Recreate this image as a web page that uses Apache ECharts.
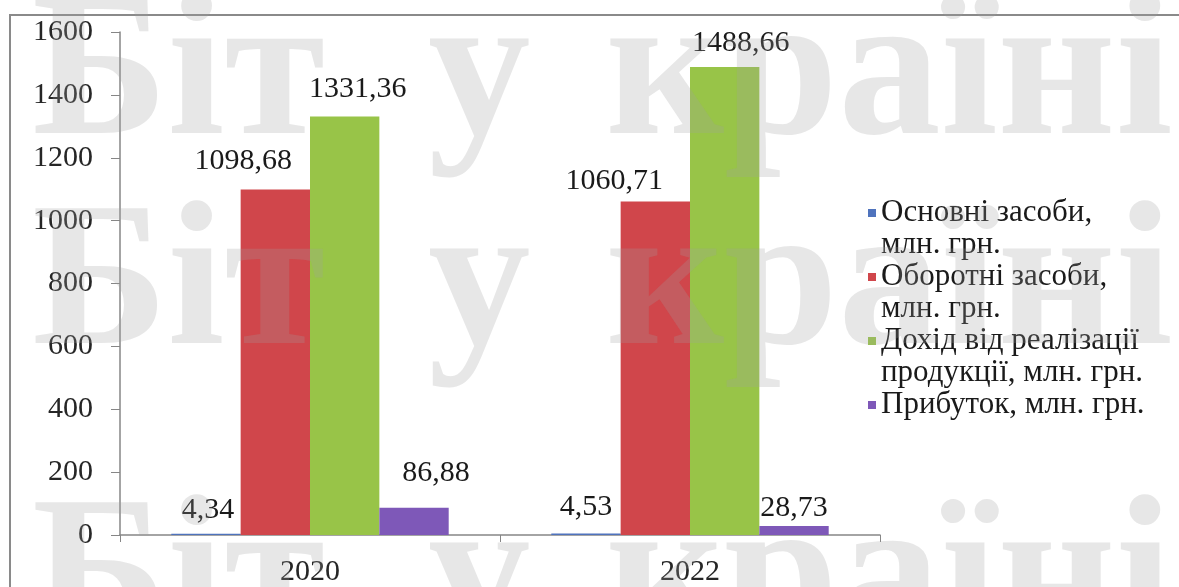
<!DOCTYPE html>
<html>
<head>
<meta charset="utf-8">
<script src="https://cdn.jsdelivr.net/npm/echarts@6/dist/echarts.min.js"></script>
<style>
  html, body { margin: 0; padding: 0; background: #ffffff; }
  #chart { width: 1179px; height: 587px; }
</style>
</head>
<body>
<div id="chart"></div>
<script>
// Years on the category axis
const years = ['2020', '2022'];

// Series names and the wrapped legend captions
const seriesNames = [
  'Основні засоби, млн. грн.',
  'Оборотні засоби, млн. грн.',
  'Дохід від реалізації продукції, млн. грн.',
  'Прибуток, млн. грн.'
];
const legendCaptions = [
  'Основні засоби,\nмлн. грн.',
  'Оборотні засоби,\nмлн. грн.',
  'Дохід від реалізації\nпродукції, млн. грн.',
  'Прибуток, млн. грн.\n '
];

// Values, млн. грн.
const fixedAssets   = [4.34, 4.53];
const currentAssets = [1098.68, 1060.71];
const salesIncome   = [1331.36, 1488.66];
const profit        = [86.88, 28.73];

// Value axis range
const yMin = 0;
const yMax = 1600;
const yStep = 200;

// Layout: value-label nudges [dx, dy] per series and year
const labelNudge = [
  [[2, -4], [0, -6]],
  [[-32, -8], [-41, 0]],
  [[13, -7], [16, -4]],
  [[22, -15], [0, 2]]
];

const colors = ['#4f73bd', '#d0464b', '#98c448', '#7e58b8'];
const serif = '"Liberation Serif", "Times New Roman", serif';
const axisGrey = '#868686';

const fmt = v => v.toFixed(2).replace('.', ',');

const valueSets = [fixedAssets, currentAssets, salesIncome, profit];

const series = valueSets.map((vals, si) => ({
  name: seriesNames[si],
  type: 'bar',
  barGap: '0%',
  barCategoryGap: '27%',
  itemStyle: { color: colors[si] },
  label: {
    show: true,
    position: 'top',
    distance: 5,
    fontFamily: serif,
    fontSize: 30,
    color: '#1a1a1a',
    formatter: p => fmt(p.value)
  },
  data: vals.map((v, i) => ({
    value: v,
    label: { offset: labelNudge[si][i] }
  }))
}));

// Faint site lettering repeated in three rows across the picture
const markWords = ['Біт', 'у', 'країні'];
const markWordX = [32, 428, 606];
const markRows = [80, 290, 584];
const markGraphics = [];
markRows.forEach(y => {
  markWords.forEach((w, k) => {
    markGraphics.push({
      type: 'text',
      z: 100,
      silent: true,
      x: markWordX[k],
      y: y,
      style: {
        text: w,
        font: 'bold 205px "Liberation Serif", serif',
        fill: 'rgba(160,160,160,0.25)',
        verticalAlign: 'middle',
        align: 'left'
      }
    });
  });
});

const option = {
  animation: false,
  backgroundColor: '#ffffff',
  color: colors,
  grid: { left: 120, right: 299, top: 32, bottom: 50, containLabel: false },
  xAxis: {
    type: 'category',
    data: years,
    boundaryGap: true,
    axisLine: { show: true, lineStyle: { color: axisGrey, width: 1.5 } },
    axisTick: { show: true, length: 7, lineStyle: { color: axisGrey } },
    axisLabel: { fontFamily: serif, fontSize: 30, color: '#262626', margin: 22 },
    splitLine: { show: false }
  },
  yAxis: {
    type: 'value',
    min: yMin,
    max: yMax,
    interval: yStep,
    axisLine: { show: true, lineStyle: { color: axisGrey, width: 1.5 } },
    axisTick: { show: true, length: 9, lineStyle: { color: axisGrey } },
    axisLabel: {
      fontFamily: serif, fontSize: 30, color: '#262626', margin: 27,
      formatter: v => String(v)
    },
    splitLine: { show: false }
  },
  legend: {
    orient: 'vertical',
    left: 863,
    top: 192,
    itemGap: 0,
    itemWidth: 8,
    itemHeight: 64,
    icon: 'path://M0,0h0.01v0.01h-0.01z M0,12h8v8h-8z M0,64h0.01v0.01h-0.01z',
    selectedMode: false,
    textStyle: { fontFamily: serif, fontSize: 31, lineHeight: 32, color: '#1a1a1a' },
    formatter: name => legendCaptions[seriesNames.indexOf(name)],
    data: seriesNames
  },
  graphic: [
    {
      type: 'rect',
      z: -1,
      silent: true,
      shape: { x: 10, y: 15, width: 1400, height: 800 },
      style: { fill: 'none', stroke: '#8a8a8a', lineWidth: 2 }
    }
  ].concat(markGraphics),
  series: series
};

const chart = echarts.init(document.getElementById('chart'), null, { renderer: 'canvas' });
chart.setOption(option);
</script>
</body>
</html>
